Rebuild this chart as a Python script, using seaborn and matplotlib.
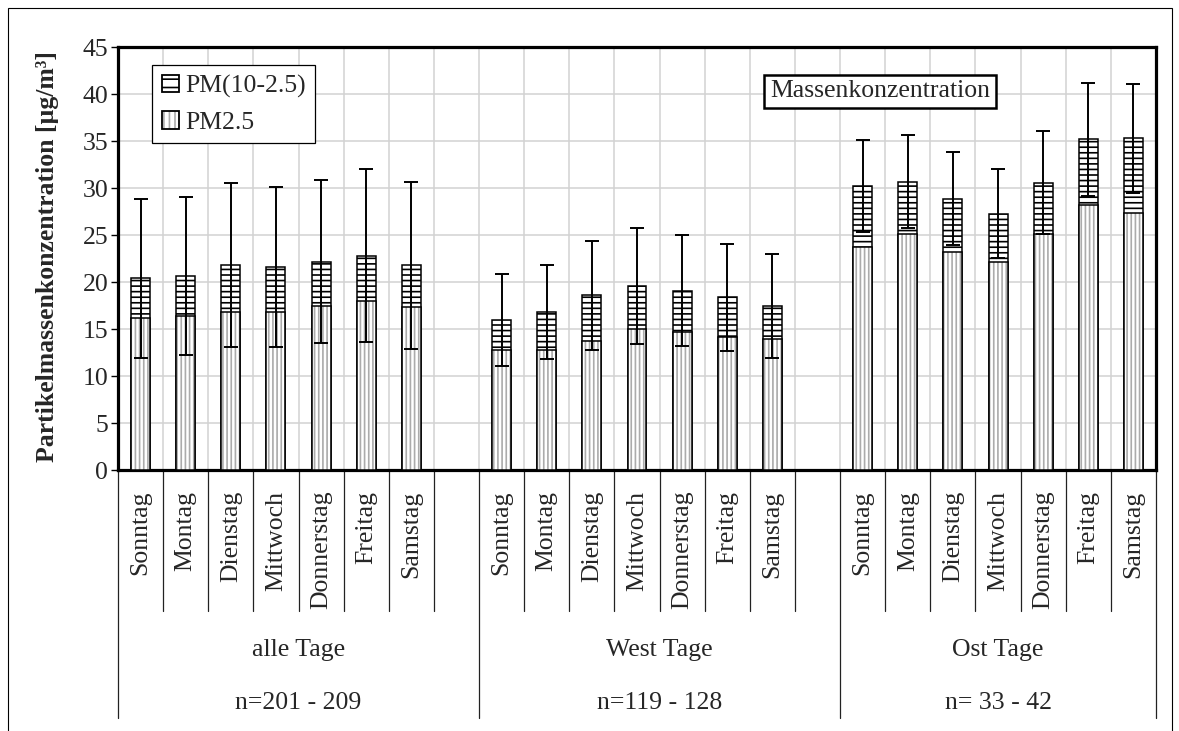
import numpy as np
import pandas as pd
import matplotlib
matplotlib.use("Agg")
import matplotlib.pyplot as plt
from matplotlib.patches import Patch, Rectangle
import seaborn as sns

# --- data -------------------------------------------------------------
days = ["Sonntag", "Montag", "Dienstag", "Mittwoch", "Donnerstag", "Freitag", "Samstag"]
groups = ["alle Tage", "West Tage", "Ost Tage"]
n_labels = ["n=201 - 209", "n=119 - 128", "n= 33 - 42"]

# PM2.5 mean concentration [µg/m³]
pm25_alle = [16.2, 16.4, 16.8, 16.8, 17.5, 18.0, 17.4]
pm25_west = [12.8, 12.8, 13.8, 15.0, 14.7, 14.2, 14.0]
pm25_ost = [23.7, 25.1, 23.2, 22.2, 25.1, 28.2, 27.4]

# coarse fraction PM(10-2.5) [µg/m³]
coarse_alle = [4.2, 4.3, 5.0, 4.8, 4.7, 4.8, 4.4]
coarse_west = [3.2, 4.0, 4.8, 4.6, 4.4, 4.2, 3.5]
coarse_ost = [6.5, 5.6, 5.7, 5.1, 5.5, 7.0, 7.9]

# standard deviation of PM10
sd_alle = [8.4, 8.4, 8.7, 8.5, 8.7, 9.2, 8.9]
sd_west = [4.9, 5.0, 5.8, 6.2, 5.9, 5.7, 5.5]
sd_ost = [4.9, 4.9, 4.9, 4.7, 5.5, 6.0, 5.8]

pm25 = [pm25_alle, pm25_west, pm25_ost]
coarse = [coarse_alle, coarse_west, coarse_ost]
sd = [sd_alle, sd_west, sd_ost]

rows = []
order = []
for gi, g in enumerate(groups):
    for di, d in enumerate(days):
        key = f"{g}|{d}"
        order.append(key)
        p = pm25[gi][di]
        c = coarse[gi][di]
        rows.append({"slot": key, "group": g, "day": d, "pm25": p,
                     "coarse": c, "pm10": round(p + c, 2), "sd": sd[gi][di]})
    if gi < len(groups) - 1:
        order.append(" " * (gi + 1))  # empty slot between groups
df = pd.DataFrame(rows)

# --- style ------------------------------------------------------------
sns.set_style("white")
plt.rcParams["font.family"] = ["Liberation Serif", "DejaVu Serif"]
plt.rcParams["hatch.linewidth"] = 1.2
FS = 18.5

fig = plt.figure(figsize=(11.79, 7.31), dpi=100)
ax = fig.add_axes([0.1001, 0.3564, 0.8804, 0.5793])

BW = 0.42
grey_hatch = "#ababab"

# PM10 total (upper part shows the coarse fraction)
sns.barplot(data=df, x="slot", y="pm10", order=order, ax=ax, width=BW,
            color="white", saturation=1, edgecolor="black", linewidth=1.1,
            hatch="---", errorbar=None, zorder=3)
# PM2.5 lower part with grey vertical hatching
sns.barplot(data=df, x="slot", y="pm25", order=order, ax=ax, width=BW,
            color="white", saturation=1, edgecolor=grey_hatch, linewidth=0,
            hatch="||||", errorbar=None, zorder=4)
# PM2.5 outlines
sns.barplot(data=df, x="slot", y="pm25", order=order, ax=ax, width=BW,
            color="black", fill=False, linewidth=1.1, errorbar=None, zorder=5)

# error bars on the PM10 total
pos = [order.index(k) for k in df["slot"]]
ax.errorbar(pos, df["pm10"], yerr=df["sd"], fmt="none", ecolor="black",
            elinewidth=1.4, capsize=5, capthick=1.4, zorder=6)

# axes, grid
n_slots = len(order)
ax.set_xlim(-0.5, n_slots - 0.5)
ax.set_ylim(0, 45)
ax.set_yticks(np.arange(0, 46, 5))
ax.set_xticks(np.arange(-0.5, n_slots, 1), minor=True)
ax.set_xticks([])
ax.set_axisbelow(True)
ax.grid(which="major", axis="y", color="#d2d2d2", linewidth=1.1)
ax.grid(which="minor", axis="x", color="#d2d2d2", linewidth=1.1)
ax.tick_params(axis="x", which="both", length=0, labelbottom=False)
ax.tick_params(axis="y", which="major", direction="out", length=5, width=1,
               color="black", pad=2, labelsize=FS, left=True)
for s in ax.spines.values():
    s.set_visible(True)
    s.set_color("black")
    s.set_linewidth(2.3)
ax.set_xlabel("")
ax.set_ylabel("Partikelmassenkonzentration [µg/m³]", fontsize=FS, fontweight="bold")
ax.yaxis.set_label_coords(-0.057, 0.505)

# category axis below the plot
tr = ax.get_xaxis_transform()
line_kw = dict(color="#222222", linewidth=0.9, transform=tr, clip_on=False)
for gi, g in enumerate(groups):
    start = gi * 8
    for di, d in enumerate(days):
        x = start + di
        ax.text(x, -0.048, d, rotation=90, ha="center", va="top",
                fontsize=FS, transform=tr, clip_on=False)
    for b in range(7):
        xb = start + b + 0.5
        if xb < n_slots - 0.5:
            ax.plot([xb, xb], [0, -0.332], **line_kw)
    left = start - 0.5
    right = min(start + 7.5, n_slots - 0.5)
    cx = (left + right) / 2
    ax.text(cx, -0.424, g, ha="center", va="center", fontsize=FS,
            transform=tr, clip_on=False)
    ax.text(cx, -0.549, n_labels[gi], ha="center", va="center", fontsize=FS,
            transform=tr, clip_on=False)
for xb in [-0.5, 7.5, 15.5, n_slots - 0.5]:
    ax.plot([xb, xb], [0, -0.584], **line_kw)

# legend
h_coarse = Patch(facecolor="white", edgecolor="black", hatch="--", linewidth=1.3)
h_fine = (Patch(facecolor="white", edgecolor=grey_hatch, hatch="|||", linewidth=0),
          Patch(facecolor="none", edgecolor="black", linewidth=1.3))
leg = ax.legend([h_coarse, h_fine], ["PM(10-2.5)", "PM2.5"], loc="upper left",
                bbox_to_anchor=(0.0328, 0.9575), borderaxespad=0, fontsize=FS,
                frameon=True, fancybox=False, edgecolor="black", framealpha=1,
                handlelength=0.68, handleheight=0.68, handletextpad=0.22,
                borderpad=0.38, labelspacing=0.5)
leg.get_frame().set_linewidth(0.9)
leg.set_zorder(10)

ax.text(0.734, 0.895, "Massenkonzentration", transform=ax.transAxes,
        ha="center", va="center", fontsize=FS, zorder=10,
        bbox=dict(boxstyle="square,pad=0.22", facecolor="white",
                  edgecolor="black", linewidth=1.8))

# outer frame of the figure
fig.add_artist(Rectangle((8 / 1179, -0.02), (1172 - 8) / 1179, 1.02 - 8 / 731,
                         transform=fig.transFigure, fill=False,
                         edgecolor="black", linewidth=0.8))

fig.savefig("out.png", dpi=100)
